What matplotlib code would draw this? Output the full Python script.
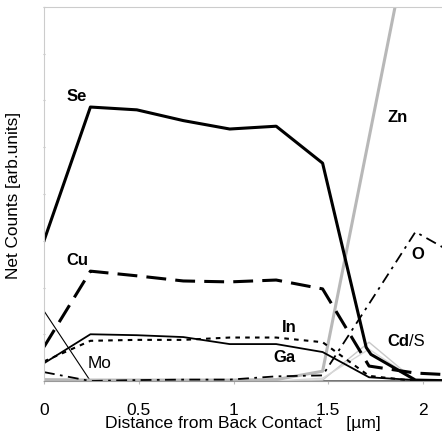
import numpy as np
import matplotlib.pyplot as plt

plt.rcParams['font.family'] = ['Liberation Sans', 'DejaVu Sans']

# depth positions [um]
x = [0, 0.245, 0.49, 0.735, 0.98, 1.225, 1.47, 1.715, 1.96, 2.205]

# net counts (arb. units)
se_x = [0, 0.245, 0.49, 0.735, 0.98, 1.225, 1.47, 1.70, 1.725, 1.96, 2.205]
se = [3.0, 5.86, 5.80, 5.57, 5.39, 5.45, 4.66, 0.72, 0.57, 0.02, 0.0]
cu = [0.73, 2.35, 2.25, 2.14, 2.12, 2.16, 1.97, 0.32, 0.17, 0.12]
ga = [0.38, 1.0, 0.98, 0.94, 0.79, 0.79, 0.62, 0.08, 0.02, 0.0]
indium = [0.42, 0.86, 0.88, 0.88, 0.93, 0.93, 0.83, 0.11, 0.0, 0.0]
o = [0.19, 0.0, 0.02, 0.03, 0.03, 0.10, 0.12, 1.65, 3.19, 2.63]
zn = [0.03, 0.02, 0.02, 0.02, 0.02, 0.03, 0.21, 5.2, 10.2, 10.0]
cd = [0.0, 0.0, 0.0, 0.0, 0.0, 0.0, 0.02, 0.83, 0.0, 0.0]
s = [0.0, 0.0, 0.0, 0.0, 0.0, 0.0, 0.06, 0.68, 0.02, 0.0]
mo = [1.5, 0.0, 0.0, 0.0, 0.0, 0.0, 0.0, 0.0, 0.0, 0.0]

fig = plt.figure(figsize=(4.42, 4.39), dpi=100)
ax = fig.add_axes([0.0995, 0.1298, 0.9005, 0.852])

ax.plot(x, mo, color='black', lw=0.8)
ax.plot(x, cd, color='#c8c8c8', lw=1.0)
ax.plot(x, s, color='#d8d8d8', lw=1.0)
ax.plot(x, zn, color='#b8b8b8', lw=2.2)
ax.plot(x, o, color='black', lw=1.3, dashes=(6, 3, 1.5, 3))
ax.plot(x, indium, color='black', lw=1.5, dashes=(2.2, 2.5))
ax.plot(x, ga, color='black', lw=1.3)
ax.plot(x, cu, color='black', lw=2.2, dashes=(6.5, 3))
ax.plot(se_x, se, color='black', lw=2.2)

ax.set_xlim(0, 2.1)
ax.set_ylim(0, 8)
ax.set_xticks([0, 0.5, 1, 1.5, 2])
ax.set_xticklabels(['0', '0.5', '1', '1.5', '2'])
ax.set_yticks(np.arange(0, 9, 1))
ax.set_yticklabels([])
ax.tick_params(axis='x', length=2, color='#bbbbbb', labelsize=12.5, pad=13)
ax.tick_params(axis='y', length=2, color='#bbbbbb', direction='inout')
for side in ['left', 'top']:
    ax.spines[side].set_color('#cccccc')
ax.spines['bottom'].set_color('#999999')
ax.spines['right'].set_visible(False)

ax.set_xlabel('Distance from Back Contact     [µm]', fontsize=12.6, labelpad=-1)
ax.set_ylabel('Net Counts [arb.units]', fontsize=12.4, labelpad=12)

lab = dict(fontsize=12, fontweight='bold', ha='left', va='center')
ax.text(0.12, 6.1, 'Se', **lab)
ax.text(1.81, 5.65, 'Zn', **lab)
ax.text(0.12, 2.59, 'Cu', **lab)
ax.text(1.94, 2.72, 'O', **lab)
ax.text(1.256, 1.16, 'In', **lab)
ax.text(1.21, 0.53, 'Ga', **lab)
cdt = ax.text(1.81, 0.86, 'Cd', **lab)
ax.annotate('/S', xy=(1, 0.5), xycoords=cdt, ha='left', va='center', fontsize=12)
ax.text(0.23, 0.39, 'Mo', fontsize=12.4, ha='left', va='center')

fig.savefig('out.png', dpi=100)
